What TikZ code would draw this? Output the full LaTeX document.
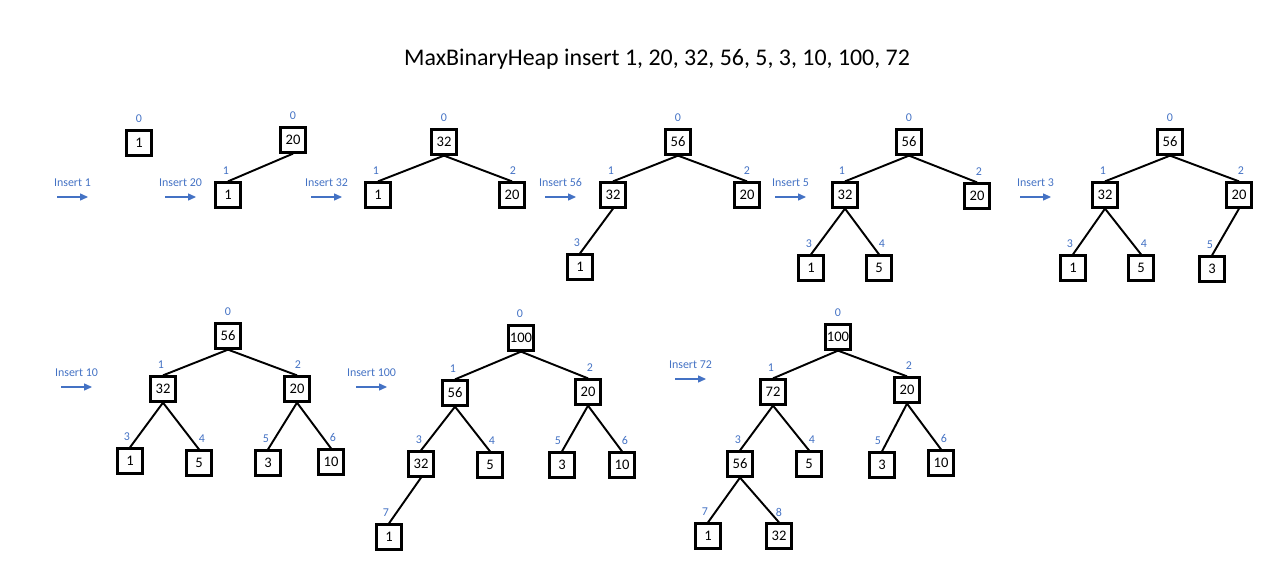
\documentclass[tikz,border=0pt]{standalone}
\usepackage{fontspec}
\setmainfont{Carlito}
\usetikzlibrary{arrows.meta}
\definecolor{idxblue}{HTML}{4472C4}

\begin{document}
\begin{tikzpicture}[x=0.02cm, y=-0.02cm,
	box/.style={draw, line width=1.3pt, minimum size=0.5cm, inner sep=0pt, font=\fontsize{8.3}{10}\selectfont},
	idx/.style={text=idxblue, inner sep=0pt, font=\fontsize{6.8}{8}\selectfont},
	ins/.style={text=idxblue, inner sep=0pt, font=\fontsize{6.8}{8}\selectfont},
	insarrow/.style={draw=idxblue, line width=0.6pt, -{Triangle[length=4.5pt, width=4pt]}},
	edge/.style={line width=1.1pt}]
	\useasboundingbox (0,0) rectangle (1280,567);

	\node[font=\fontsize{13.6}{16}\selectfont, inner sep=0pt] (title) at (657,59) {MaxBinaryHeap insert 1, 20, 32, 56, 5, 3, 10, 100, 72};

	    \foreach \t/\i/\v/\x/\y/\dx in {a/0/1/139/143/0,
	    	b/0/20/293/140/0, b/1/1/228/195/-2,
	    	c/0/32/444/142/0, c/1/1/378/195/-2, c/2/20/512/195/1,
	    	d/0/56/678/142/0, d/1/32/613/195/-2, d/2/20/747/195/0, d/3/1/580/267/-3,
	    	e/0/56/909/142/0, e/1/32/845/195/-3, e/2/20/977/196/2, e/3/1/811/268/-2, e/4/5/879/268/3,
	    	f/0/56/1170/142/0, f/1/32/1105/195/-2, f/2/20/1239/195/2, f/3/1/1073/268/-3, f/4/5/1141/268/3, f/5/3/1212/269/-2,
	    	g/0/56/228/336/0, g/1/32/163/389/-2, g/2/20/297/389/1, g/3/1/130/461/-3, g/4/5/199/463/3, g/5/3/268/463/-2, g/6/10/331/462/2,
	    	h/0/100/521/338/-1, h/1/56/455/393/-2, h/2/20/588/392/2, h/3/32/421/464/-2, h/4/5/490/465/2, h/5/3/562/465/-4, h/6/10/622/465/3, h/7/1/389/537/-3,
	    	i/0/100/838/337/0, i/1/72/773/392/-2, i/2/20/907/390/2, i/3/56/740/464/-2, i/4/5/809/464/3, i/5/3/882/465/-4, i/6/10/941/463/3, i/7/1/708/536/-3, i/8/32/779/536/0}
	    {
		\node[box] (\t\i) at (\x,\y) {\v};
		\node[idx] (l\t\i) at (\x+\dx,\y-24) {\i};
	    }

	    \foreach \a/\b in {b0/b1, c0/c1, c0/c2, d0/d1, d0/d2, d1/d3,
	    	e0/e1, e0/e2, e1/e3, e1/e4, f0/f1, f0/f2, f1/f3, f1/f4, f2/f5,
	    	g0/g1, g0/g2, g1/g3, g1/g4, g2/g5, g2/g6,
	    	h0/h1, h0/h2, h1/h3, h1/h4, h2/h5, h2/h6, h3/h7,
	    	i0/i1, i0/i2, i1/i3, i1/i4, i2/i5, i2/i6, i3/i7, i3/i8}
		\draw[edge] (\a.south) -- (\b.north);

	    \foreach \k/\x/\y in {1/57/197, 20/165/197, 32/311/197, 56/545/197, 5/775/197, 3/1020/197, 10/61/387, 100/356/387, 72/675/379}
	    {
		\node[ins] (ins\k) at (\x+15.5,\y-14) {Insert \k};
		\coordinate (as\k) at (\x,\y);
		\coordinate (ae\k) at (\x+31,\y);
		\draw[insarrow] (as\k) -- (ae\k);
	    }
	\end{tikzpicture}
\end{document}
